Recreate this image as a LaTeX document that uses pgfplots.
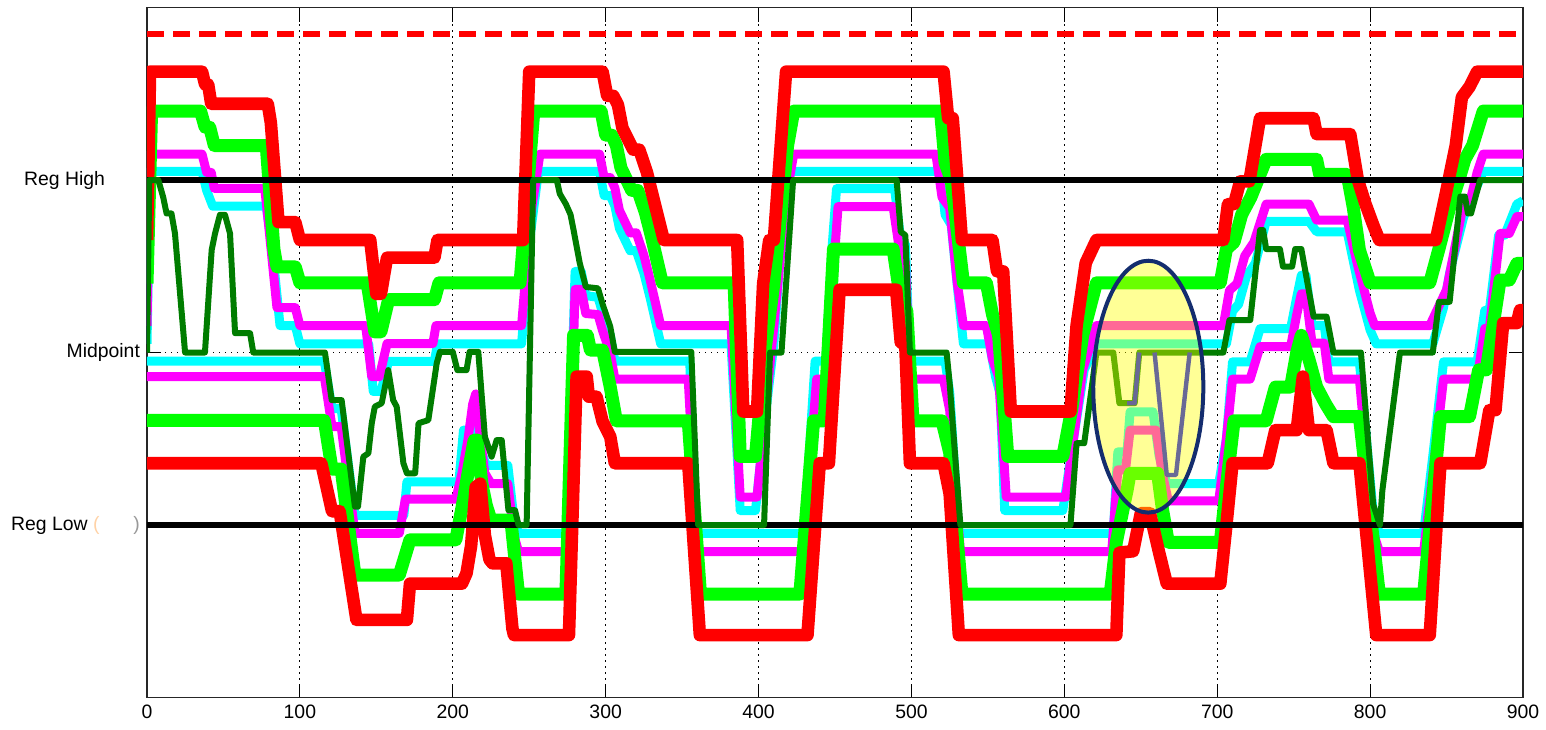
\documentclass[border=0pt]{standalone}
\usepackage{fontspec}
\setmainfont{Liberation Sans}
\usepackage{pgfplots}
\pgfplotsset{compat=1.18}
\definecolor{cy}{RGB}{0,255,255}
\definecolor{mg}{RGB}{255,0,255}
\definecolor{gr}{RGB}{0,255,0}
\definecolor{rd}{RGB}{255,0,0}
\definecolor{dg}{RGB}{0,125,0}
\definecolor{bl}{RGB}{0,0,255}
\definecolor{navy}{RGB}{20,45,110}
\definecolor{yl}{RGB}{255,255,0}
\begin{document}
\begin{tikzpicture}
\begin{axis}[
  name=ax,
  scale only axis,
  width=688pt, height=345pt,
  xmin=0, xmax=900, ymin=-50, ymax=150,
  xtick={0,100,200,300,400,500,600,700,800,900},
  ytick={0,50,100},
  yticklabels={{Reg Low \textcolor{orange!35}{(}\kern17pt\textcolor{gray!80}{)}},{Midpoint},{Reg High\kern17.5pt\mbox{}}},
  grid=major,
  major grid style={black, line width=0.5pt, dash pattern=on 0.6pt off 2.4pt},
  tick align=inside,
  major tick length=7pt,
  axis line style={line width=0.6pt, black!85},
  tick style={black, line width=0.6pt},
  ticklabel style={font=\fontsize{9.7}{11}\selectfont},
  /pgf/number format/assume math mode=true,
  every axis plot/.append style={mark=none, line join=round},
]
% cyan upper
\addplot[cy, line width=4.5pt] coordinates {(0,52.5) (2,102.5) (36,102.5) (39,97) (43,92.4) (78,92.4) (82,80) (87,57.8) (97,57.8) (100,52.5) (145,52.5) (148,38.7) (153,38.7) (158,47.4) (188,47.4) (190,52.5) (245,52.5) (251,85) (256,102.5) (296,102.5) (299,95.5) (303,95.5) (306,92.5) (309,86) (316,79.5) (320,79.5) (325,73) (329,66) (336,52.5) (382,52.5) (388,4.2) (398,4.2) (404,30) (410,52.5) (416,90) (421,102.5) (519,102.5) (522,90) (526,87) (531,65) (534,52.5) (551,52.5) (555,43) (558,38) (561,4.2) (599,4.2) (606,25) (613,45) (621,52.5) (706,52.5) (710,62) (714,64) (719,72) (725,76) (732,88) (760,88) (765,85) (785,85) (793,68) (800,56.5) (804,52.5) (841,52.5) (848,63) (852,73) (861,89) (866,95) (870,98.3) (874,102.5) (900,102.5)};
% cyan lower
\addplot[cy, line width=4.5pt] coordinates {(0,47.5) (116,47.5) (121,33.7) (127,33.7) (136,2.8) (168,2.8) (170,12.5) (204,12.5) (207,27.5) (214,27.5) (218,22) (222,17.3) (236,17.3) (240,1.8) (243,-2.4) (275,-2.4) (280,73.5) (284,73.5) (287,66.5) (295,66) (298,61.5) (303,55) (306,47.5) (355,47.5) (359,-2.4) (430,-2.4) (433,20) (437,47.5) (444,47.5) (448,80) (451,97.5) (489,97.5) (493,82.5) (496,81.5) (499,47.5) (522,47.5) (525,38.5) (531,-2.4) (632,-2.4) (635,21.2) (641,21.2) (643,32.8) (658,32.8) (662,20) (667,12) (701,12) (706,25) (710,47.3) (721.5,47.3) (728,56.9) (748,56.9) (752,66) (755,72.4) (758,72.4) (762,57.9) (770,57.9) (773,47.3) (793,47.3) (802,3.5) (806,-2.4) (835,-2.4) (841,20) (848,47.3) (870,47.3) (875,62.2) (878,62.2) (884,84) (888,84) (896,93) (900,94)};
% magenta upper
\addplot[mg, line width=4.5pt] coordinates {(0,57.7) (2,107.5) (36,107.5) (39,102.2) (42,102.2) (44,97.6) (77,97.6) (80,85) (85,63) (97,63) (100,57.8) (143,57.8) (147,43) (152,43) (157,52.6) (187,52.6) (189,57.8) (245,57.8) (251,90) (257,107.5) (296,107.5) (299,100.7) (303,100.7) (306,97.7) (309,91.2) (316,84.7) (320,84.7) (325,78.2) (329,71.2) (336,57.8) (382,57.8) (388,8.1) (399,8.1) (406,40) (410,57.8) (418,95) (423,107.5) (516,107.5) (520,95) (525,92) (530,70) (534,57.8) (549,57.8) (553,48) (557,43) (562,8.1) (601,8.1) (606,25) (612,45) (621,57.8) (704,57.8) (708,68) (713,70) (718,78) (724,82) (732,93) (760,93) (765,88.4) (785,88.4) (792,75) (800,61.4) (803,57.8) (839,57.8) (850,68.2) (861,93) (866,95) (870,102.2) (874,107.5) (900,107.5)};
% magenta lower
\addplot[mg, line width=4.5pt] coordinates {(0,43) (116,43) (121,28.5) (127,28.5) (136,-2.4) (165,-2.4) (169,7.5) (202,7.5) (206,15) (210,25) (213,35) (215,38) (218,25) (221,15) (225,12) (236,12) (240,-3) (243,-7.7) (275,-7.7) (280,68.3) (284,68.3) (287,61.3) (295,61) (298,56.3) (303,49.8) (306,42.3) (354,42.3) (360,-7.7) (430,-7.7) (434,20) (438,42.3) (445,42.3) (450,80) (452,92.3) (488,92.3) (493,77.3) (496,76.3) (499,42.3) (521,42.3) (525,33.3) (532,-7.7) (631,-7.7) (635,16) (640,16) (643,27.5) (660,27.5) (664,15) (668,7) (701,7) (706,25) (710,42.3) (721.5,42.3) (728,51.7) (748,51.7) (752,61) (755,67) (758,67) (762,52.7) (770,52.7) (773,42.3) (793,42.3) (802,-2) (806,-7.7) (835,-7.7) (841,15) (848,42.3) (870,42.3) (875,57) (878,57) (885,84.5) (891,84.5) (896,89.4) (900,89.4)};
% green upper
\addplot[gr, line width=6.5pt] coordinates {(0,70) (3,120) (35,120) (38,115.3) (41,115.3) (44,110) (78,110) (83,80) (85,74.8) (97,74.8) (100,70.2) (144,70.2) (149,56) (153,56) (158,65.3) (188,65.3) (191,70.2) (244,70.2) (253,120) (297,120) (300,113) (304,113) (307,110) (310,103.5) (317,97) (321,97) (326,90.5) (330,83.5) (337,70.2) (384,70.2) (388,19.9) (398,19.9) (404,50) (410,70) (419,110) (423,120) (519,120) (522,105) (526,100) (530,85) (534,70.2) (549,70.2) (553,61) (557,55) (563,19.9) (599,19.9) (605,34) (612,55) (621,70.2) (702,70.2) (706,80) (711,82) (716,90) (722,95) (732,106) (765,106) (767,101.6) (785,101.6) (789,92) (793,79.7) (800,70.2) (839,70.2) (845,80) (852,92) (858,100) (862,106) (867,110) (874,120) (900,120)};
% green lower
\addplot[gr, line width=6.5pt] coordinates {(0,30.3) (116,30.3) (121,16.2) (127,16.2) (136,-14.5) (165,-14.5) (172,-4.3) (202,-4.3) (206,5) (210,15) (214,24.6) (216,24.6) (219,12) (222,5.6) (225,1.4) (238,1.4) (243,-20) (274,-20) (279,55) (288,55) (290,50.7) (298,50.7) (303,40) (307,30.2) (354,30.2) (362,-20) (427,-20) (436,30.2) (443,30.2) (449,80) (488,80) (493,65) (497,62) (501,30.2) (520,30.2) (525,21) (533,-20) (630,-20) (634,-5) (638,3.7) (641,10) (643,15) (661,15) (664,5) (668,-5) (702,-5) (707,15) (711,30.2) (732,30.2) (738,40) (748,40) (752,50) (755,55) (760,48) (765,40) (771,35) (776,31.4) (793,31.4) (806,-20) (835,-20) (846,31.4) (865,31.4) (871,45) (876,45) (885,71) (891,71) (896,75.8) (900,75.8)};
% red upper
\addplot[rd, line width=6.3pt] coordinates {(0,82.6) (2,131.4) (36,131.4) (38,127.7) (40,127.7) (42,122.1) (79,122.1) (81,116.6) (86,87.8) (97,87.8) (100,82.6) (146,82.6) (150,67) (153,67) (157,77.5) (188,77.5) (190,82.6) (246,82.6) (250,131.4) (298,131.4) (301,124.4) (305,124.4) (308,121.8) (311,115) (318,108.8) (322,108.8) (327,102.2) (331,95) (338,82.6) (386,82.6) (390,32.9) (399,32.9) (403,70) (407,82.6) (410,82.6) (418,131.4) (521,131.4) (524,117.9) (527,117.9) (533,82.6) (553,82.6) (556,73.5) (560,73.5) (565,32.9) (604,32.9) (608,57.8) (614,76) (621,82.6) (704,82.6) (707,93) (711,93) (715,99.6) (721,99.6) (728,117.9) (763,117.9) (765,113.3) (787,113.3) (792,100) (797,93) (802,87) (806,82.6) (843,82.6) (849,95) (856,110) (860,124) (865,127) (870,131.4) (900,131.4)};
% red lower
\addplot[rd, line width=6.3pt] coordinates {(0,17.9) (114,17.9) (121,4) (126,4) (137,-27.5) (170,-27.5) (172,-17) (206,-17) (209,-14) (212,-6) (215,11) (218,12) (221,-3) (224,-10) (226,-11.1) (235,-11.1) (239,-30) (240,-31.9) (276,-31.9) (281,43) (287.6,43) (289,37.2) (294,37.2) (298,30) (303,25.6) (306,17.9) (354,17.9) (361.6,-31.9) (432,-31.9) (440,17.9) (446,17.9) (453,68.2) (490,68.2) (493,53) (496,52) (499,17.9) (521,17.9) (525,9) (531,-31.9) (634,-31.9) (636,-8) (645,-7.6) (650,3.4) (656,3.4) (662,-8) (667,-17) (702,-17) (706,0) (710,17.9) (733,17.9) (738,27.5) (752,27.5) (756,43) (760,27.5) (771.5,27.5) (776,17.9) (793,17.9) (804,-31.9) (839,-31.9) (846,17.9) (872,17.9) (878,33.3) (882,33.3) (887,58.5) (896,58.5) (898,62.3) (900,62.3)};
% regulation limits
\addplot[black, line width=3.2pt] coordinates {(0,100) (900,100)};
\addplot[black, line width=3.2pt] coordinates {(0,0) (900,0)};
\addplot[rd, line width=3pt, dash pattern=on 8.5pt off 4.5pt] coordinates {(0,142.2) (900,142.2)};
% signal
\addplot[dg, line width=3pt] coordinates {(0,50) (1.5,100) (7.4,100) (10.6,95) (12.8,90.3) (16,90.3) (18.3,84.5) (24.9,50) (37.9,50) (42.3,79.7) (44.5,84.5) (47.7,89.9) (51,89.9) (54.3,84.5) (57.6,55.6) (67.4,55.6) (69.5,50) (116.4,50) (120.8,36.2) (127.3,36.2) (136,5.3) (138,5.3) (141.5,19.8) (144.8,20.8) (147,29.5) (149,34.3) (153.5,35.3) (157.8,44.9) (161,36.2) (163.3,34.3) (167.7,17.9) (170,15) (175.4,15) (177.6,29.5) (184,30.4) (189.5,46.9) (191.6,50.2) (200,50.2) (203,44.9) (209,44.9) (211,50.2) (216.7,50.2) (221,25.6) (225.4,19.8) (228.7,24.6) (232,24.6) (236.4,4.3) (240.7,4.3) (243,0) (248.3,0) (252.6,100) (268,100) (270,96) (274,93) (277,90) (279,85.5) (283,76) (287,69) (295,68.6) (298,64) (303,57.5) (306,50.2) (356,50.2) (360.5,0) (403.6,0) (407.5,50) (415,50) (422.6,100) (490.3,100) (493,85) (496,84) (499,50) (523,50) (525,41) (532,0) (604,0) (608,23.7) (613,23.7) (621,50) (632,50) (636,35.3) (646,35.3) (649,50) (704,50) (708,59.4) (721.6,59.4) (728,85.5) (730,85.5) (732,80) (741,80) (743,74.9) (749,74.9) (751,80) (755,80) (763,60.4) (771.5,60.4) (776,50) (794,50) (802,6) (806.4,0) (808,10) (819.5,50) (841,50) (845,64.7) (852,64.7) (859,95.2) (862,95.2) (864,90.3) (866,90.3) (869,95.2) (872,100) (900,100)};
% blue trace visible inside the highlighted region
\addplot[bl, line width=2.2pt] coordinates {(641,35.3) (646,35.3) (649,50)};
\addplot[bl, line width=2.2pt] coordinates {(659,50) (667,14.5) (673,14.5) (682,50)};
% highlight
\fill[yl, fill opacity=0.41] (axis cs:654.9,40.1) ellipse [x radius=36, y radius=36.5];
\draw[navy, line width=2pt] (axis cs:654.9,40.1) ellipse [x radius=36, y radius=36.5];
\end{axis}
\path (ax.south west) ++(-73.5pt,-15.75pt) coordinate (bbl);
\path (ax.north east) ++(11.5pt,3.75pt) coordinate (btr);
\path (bbl) rectangle (btr);
\end{tikzpicture}
\end{document}
